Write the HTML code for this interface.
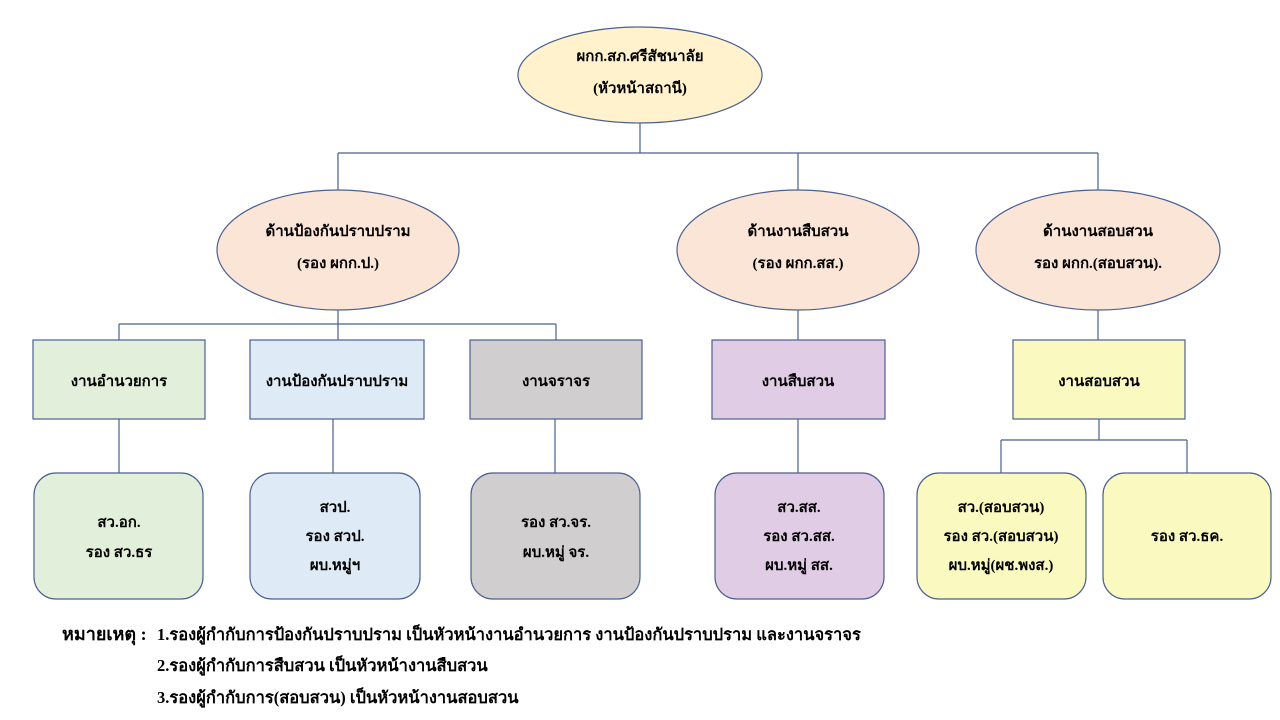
<!DOCTYPE html>
<html><head><meta charset="utf-8"><style>
html,body{margin:0;padding:0;background:#fff;width:1280px;height:720px;overflow:hidden}
svg text{font-family:"Liberation Serif","DejaVu Sans","Noto Sans CJK SC",serif;font-weight:bold;font-size:15px;fill:#000}
</style></head><body>
<svg width="1280" height="720" xmlns="http://www.w3.org/2000/svg">
<g stroke="#4a6090" stroke-width="1.2" fill="none">
<path d="M640 123V153M338 153H1098M338 153V190M798 153V190M1098 153V190"/>
<path d="M338 310V324M119 324H556M119 324V340M338 324V340M556 324V340"/>
<path d="M798 310V340M1098 310V340"/>
<path d="M119 419V473M333 419V473M555 419V473M798 419V473"/>
<path d="M1099 419V440M1001 440H1187M1001 440V473M1187 440V473"/>
</g>
<g stroke="#4a6090" stroke-width="1.2">
<ellipse cx="640" cy="75" rx="122" ry="48" fill="#fff2cc"/>
<ellipse cx="338" cy="250" rx="121" ry="60" fill="#fbe5d6"/>
<ellipse cx="798" cy="250" rx="121" ry="60" fill="#fbe5d6"/>
<ellipse cx="1098" cy="250" rx="122" ry="60" fill="#fbe5d6"/>
<rect x="33" y="340" width="172" height="79" fill="#e2efda"/>
<rect x="250" y="340" width="174" height="79" fill="#deebf7"/>
<rect x="470" y="340" width="172" height="79" fill="#d0cece"/>
<rect x="712" y="340" width="173" height="79" fill="#e1cce5"/>
<rect x="1013" y="340" width="172" height="79" fill="#fafac0"/>
<rect x="34" y="473" width="169" height="126" rx="22" fill="#e2efda"/>
<rect x="250" y="473" width="170" height="126" rx="22" fill="#deebf7"/>
<rect x="471" y="473" width="169" height="126" rx="22" fill="#d0cece"/>
<rect x="715" y="473" width="169" height="126" rx="22" fill="#e1cce5"/>
<rect x="917" y="473" width="169" height="126" rx="22" fill="#fafac0"/>
<rect x="1103" y="473" width="168" height="126" rx="22" fill="#fafac0"/>
</g>
<g text-anchor="middle">
<text x="640" y="61">ผกก.สภ.ศรีสัชนาลัย</text>
<text x="640" y="93">(หัวหน้าสถานี)</text>
<text x="338" y="236">ด้านป้องกันปราบปราม</text>
<text x="338" y="268">(รอง ผกก.ป.)</text>
<text x="798" y="236">ด้านงานสืบสวน</text>
<text x="798" y="268">(รอง ผกก.สส.)</text>
<text x="1098" y="236">ด้านงานสอบสวน</text>
<text x="1098" y="268">รอง ผกก.(สอบสวน).</text>
<text x="119" y="386">งานอำนวยการ</text>
<text x="337" y="386">งานป้องกันปราบปราม</text>
<text x="556" y="386">งานจราจร</text>
<text x="798" y="386">งานสืบสวน</text>
<text x="1099" y="386">งานสอบสวน</text>
<text x="119" y="527">สว.อก.</text>
<text x="119" y="557">รอง สว.ธร</text>
<text x="335" y="512">สวป.</text>
<text x="335" y="541">รอง สวป.</text>
<text x="335" y="570">ผบ.หมู่ฯ</text>
<text x="556" y="527">รอง สว.จร.</text>
<text x="556" y="557">ผบ.หมู่ จร.</text>
<text x="799" y="512">สว.สส.</text>
<text x="799" y="541">รอง สว.สส.</text>
<text x="799" y="570">ผบ.หมู่ สส.</text>
<text x="1001" y="512">สว.(สอบสวน)</text>
<text x="1001" y="541">รอง สว.(สอบสวน)</text>
<text x="1001" y="570">ผบ.หมู่(ผช.พงส.)</text>
<text x="1187" y="541">รอง สว.ธค.</text>
</g>
<text x="62" y="640" style="font-size:18px">หมายเหตุ :</text>
<text x="157" y="640" style="font-size:16.5px">1.รองผู้กำกับการป้องกันปราบปราม เป็นหัวหน้างานอำนวยการ งานป้องกันปราบปราม และงานจราจร</text>
<text x="157" y="671" style="font-size:16.5px">2.รองผู้กำกับการสืบสวน เป็นหัวหน้างานสืบสวน</text>
<text x="157" y="703" style="font-size:16.5px">3.รองผู้กำกับการ(สอบสวน) เป็นหัวหน้างานสอบสวน</text>
</svg>
</body></html>
